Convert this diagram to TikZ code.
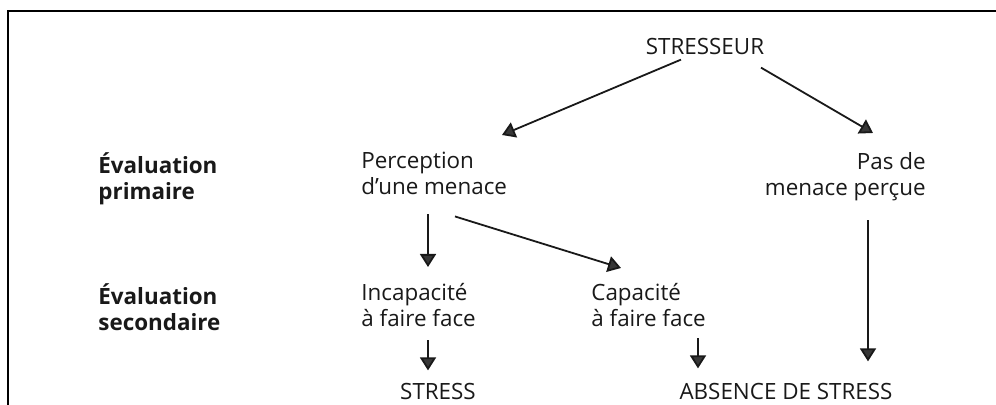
\documentclass[tikz,border=0pt]{standalone}
\usepackage{fontspec}
\setmainfont{Open Sans}
\usetikzlibrary{arrows.meta,calc}
\definecolor{inkgray}{RGB}{25,25,25}
\definecolor{tipgray}{RGB}{55,55,55}

\begin{document}
\begin{tikzpicture}[x=0.5pt,y=-0.5pt,
    txt/.style={inner sep=0pt,align=left,text=inkgray,font=\fontsize{11.2}{13}\selectfont},
    lbl/.style={txt,font=\fontsize{11.2}{13}\selectfont\bfseries},
    arr/.style={line width=0.9pt,draw=inkgray,-{Triangle[length=6.5pt,width=8pt,fill=tipgray]}}]
    \useasboundingbox (0,0) rectangle (996,405);
    % Frame
    \draw[line width=1.4pt] (8,405) -- (8,11) -- (996,11);

    % Stresseur
    \node[txt,anchor=base] (stresseur) at (705,55) {STRESSEUR};

    % Evaluation primaire
    \node[lbl,anchor=north west] (primaire) at (98,152) {Évaluation\\primaire};
    \node[txt,anchor=north west] (menace) at (361,152) {Perception\\d’une menace};
    \node[txt,anchor=north east,align=right] (pasmenace) at (926,152) {Pas de\\menace perçue};

    % Evaluation secondaire
    \node[lbl,anchor=north west] (secondaire) at (98,283) {Évaluation\\secondaire};
    \node[txt,anchor=north west] (incapacite) at (361,283) {Incapacité\\à faire face};
    \node[txt,anchor=north west] (capacite) at (591,283) {Capacité\\à faire face};

    % Issues
    \node[txt,anchor=base] (stress) at (438,400) {STRESS};
    \node[txt,anchor=base] (absence) at (786,400) {ABSENCE DE STRESS};

    % Arrows
    \draw[arr] ($(stresseur.south)+(-24,4)$) -- ($(menace.north west)+(141,-17)$);
    \draw[arr] ($(stresseur.south)+(56,12)$) -- ($(pasmenace.north east)+(-53,-19)$);
    \draw[arr] ($(menace.south west)+(67,19)$) -- ($(incapacite.north west)+(67,-16)$);
    \draw[arr] ($(menace.south west)+(94,21)$) -- ($(capacite.north west)+(30,-15)$);
    \draw[arr] ($(pasmenace.south east)+(-58,19)$) -- ($(absence.north)+(82,-22)$);
    \draw[arr] ($(incapacite.south west)+(67,13)$) -- ($(stress.north)+(-10,-13)$);
    \draw[arr] ($(capacite.south west)+(107,11)$) -- ($(absence.north)+(-88,-15)$);
\end{tikzpicture}
\end{document}
